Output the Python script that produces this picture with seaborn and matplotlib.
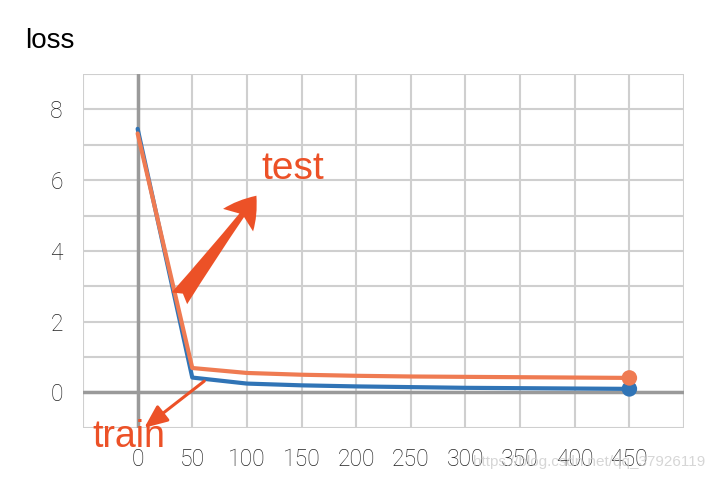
import numpy as np
import pandas as pd
import matplotlib
matplotlib.use("Agg")
import matplotlib.pyplot as plt
import seaborn as sns

# ---- data ----
steps = [0, 50, 100, 150, 200, 250, 300, 350, 400, 450]
train_loss = [7.45, 0.42, 0.25, 0.20, 0.17, 0.15, 0.13, 0.12, 0.11, 0.10]
test_loss = [7.32, 0.69, 0.55, 0.50, 0.47, 0.45, 0.44, 0.43, 0.42, 0.41]
runs = ["train", "test"]
x_tick_labels = [0, 50, 100, 150, 200, 250, 300, 350, 400, 450]
y_tick_labels = [0, 2, 4, 6, 8]

BLUE = "#3074b6"
ORANGE = "#ef7b52"
RED = "#ec5127"
GRID = "#cfcfcf"
ZERO = "#9a9a9a"

sns.set_theme(style="white")
plt.rcParams["font.family"] = ["Liberation Sans", "DejaVu Sans"]

df = pd.DataFrame({
    "step": steps + steps,
    "loss": train_loss + test_loss,
    "run": ["train"] * len(steps) + ["test"] * len(steps),
})
palette = {"train": BLUE, "test": ORANGE}

W, H = 712, 480
fig = plt.figure(figsize=(W / 100, H / 100), dpi=100)
ax = fig.add_axes([83 / W, 1 - 427.8 / H, (684 - 83) / W, (427.8 - 74) / H])

sns.lineplot(data=df, x="step", y="loss", hue="run", hue_order=runs,
             palette=palette, linewidth=3, legend=False, ax=ax, zorder=3)
last = df[df["step"] == df["step"].max()]
sns.scatterplot(data=last, x="step", y="loss", hue="run", hue_order=runs,
                palette=palette, s=125, edgecolor="none", legend=False,
                ax=ax, zorder=4)

ax.set_xlim(-50, 500)
ax.set_ylim(-1, 9)
xt = np.arange(-50, 501, 50)
yt = np.arange(-1, 10, 1)
ax.set_xticks(xt)
ax.set_xticklabels([str(v) if v in x_tick_labels else "" for v in xt])
ax.set_yticks(yt)
ax.set_yticklabels([str(v) if v in y_tick_labels else "" for v in yt])
ax.grid(True, color=GRID, lw=1.5)
ax.set_axisbelow(True)
for s in ax.spines.values():
    s.set_visible(False)
ax.tick_params(axis="both", length=6.5, width=1.5, color=GRID,
               labelsize=16.5, labelcolor="#222222")
ax.tick_params(axis="x", pad=8)
ax.tick_params(axis="y", pad=8)
for lab in ax.get_xticklabels() + ax.get_yticklabels():
    lab.set_family(["Roboto", "Liberation Sans", "DejaVu Sans"])
    lab.set_fontweight("light")
ax.set_xlabel("")
ax.set_ylabel("")

ax.axhline(0, color=ZERO, lw=2.5, zorder=1.5)
ax.axvline(0, color=ZERO, lw=2.5, zorder=1.5)
for t, v in zip(ax.yaxis.get_major_ticks(), yt):
    if v == 0:
        t.tick1line.set_color(ZERO)
        t.tick1line.set_markeredgewidth(2.5)
for t, v in zip(ax.xaxis.get_major_ticks(), xt):
    if v == 0:
        t.tick1line.set_color(ZERO)
        t.tick1line.set_markeredgewidth(2.5)

# annotations
ax.annotate("", xy=(108.7, 5.56), xytext=(38.2, 2.66),
            arrowprops=dict(arrowstyle="fancy,head_length=1.1,head_width=1.35,tail_width=0.7",
                            mutation_scale=20, color=RED, shrinkA=0, shrinkB=0, lw=0),
            annotation_clip=False, zorder=6)
ax.text(113, 6.03, "test", fontsize=28, color=RED, va="baseline", zorder=6)
ax.annotate("", xy=(6.1, -1.0), xytext=(61, 0.32),
            arrowprops=dict(arrowstyle="-|>,head_length=0.7,head_width=0.3",
                            mutation_scale=20, color=RED, lw=2.2, shrinkA=0, shrinkB=0),
            annotation_clip=False, zorder=6)
ax.text(-41.5, -1.54, "train", fontsize=27, color=RED, va="baseline",
        clip_on=False, zorder=6)

fig.text(25 / W, 1 - 48 / H, "loss", fontsize=20, color="black", va="baseline")
fig.text(705 / W, 1 - 466 / H, "https://blog.csdn.net/qq_37926119", fontsize=11,
         color="#cccccc", alpha=0.8, ha="right", va="baseline", zorder=10)

fig.savefig("out.png", dpi=100)
